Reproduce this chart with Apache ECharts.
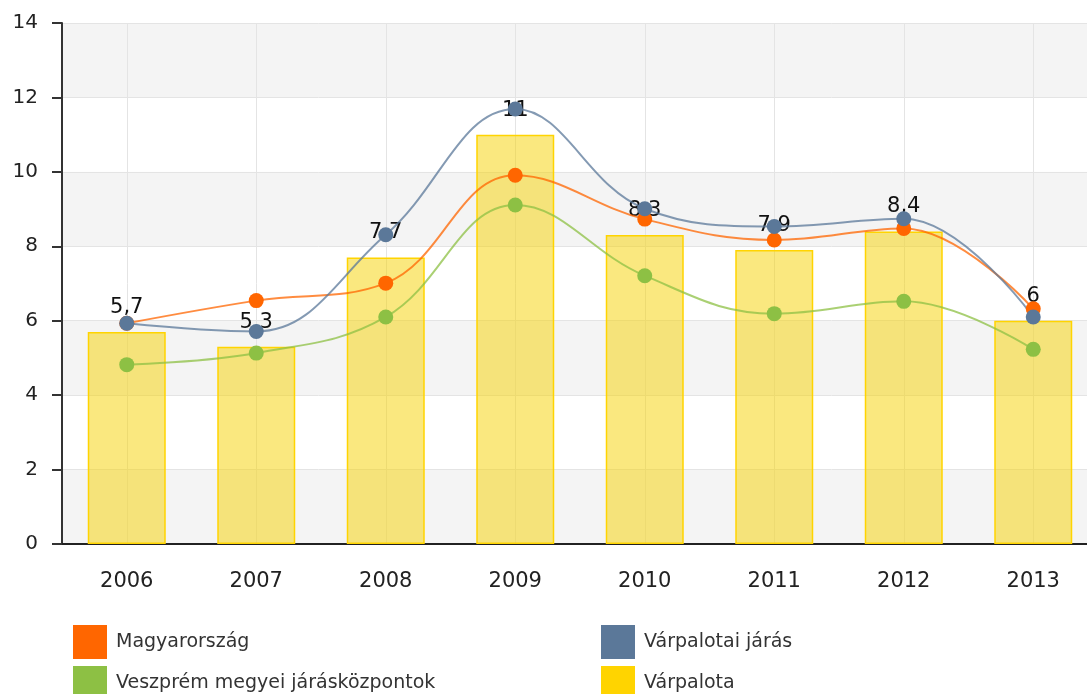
<!DOCTYPE html>
<html>
<head>
<meta charset="utf-8">
<script src="https://cdn.jsdelivr.net/npm/echarts@6/dist/echarts.min.js"></script>
<style>
  html, body { margin: 0; padding: 0; background: #fff; }
  #chart { width: 1087px; height: 694px; }
</style>
</head>
<body>
<div id="chart"></div>
<script>
(function(){
	'use strict';

	// categories (years)
	var years = ['2006', '2007', '2008', '2009', '2010', '2011', '2012', '2013'];

	// Várpalota (bars)
	var varpalota = [5.7, 5.3, 7.7, 11, 8.3, 7.9, 8.4, 6];
	// Magyarország
	var magyarorszag = [5.93, 6.54, 7.01, 9.91, 8.73, 8.17, 8.48, 6.32];
	// Várpalotai járás
	var varpalotaiJaras = [5.93, 5.71, 8.31, 11.69, 9.01, 8.53, 8.74, 6.1];
	// Veszprém megyei járásközpontok
	var veszprem = [4.82, 5.13, 6.10, 9.11, 7.21, 6.19, 6.52, 5.23];

	var yTicks = { min: 0, max: 14, interval: 2 };

	var FONT = '"DejaVu Sans", Verdana, sans-serif';

	var lineSeries = function(name, color, data){
		return {
			name: name,
			type: 'line',
			data: data,
			smooth: 0.4,
			symbol: 'circle',
			symbolSize: 15,
			itemStyle: { color: color },
			lineStyle: { color: color, width: 2, opacity: 0.75 }
		};
	};

	// one legend per entry, laid out in two columns
	var legendItem = function(name, color, left, top){
		return {
			left: left, top: top, padding: 0,
			itemWidth: 34, itemHeight: 34, icon: 'rect',
			textStyle: { fontSize: 19, color: '#333', fontFamily: FONT, padding: [0, 0, 0, 4] },
			data: [{ name: name, itemStyle: { color: color, borderWidth: 0 } }]
		};
	};

	var myChart = echarts.init(document.getElementById('chart'));

	var option = {
		animation: false,
		textStyle: { fontFamily: FONT },
		grid: { left: 62, right: -11, top: 23, bottom: 150, outerBoundsMode: 'none', containLabel: false },
		legend: [
			legendItem('Magyarország', '#FF6600', 73, 625),
			legendItem('Veszprém megyei járásközpontok', '#8DC044', 73, 666),
			legendItem('Várpalotai járás', '#5B7899', 601, 625),
			legendItem('Várpalota', '#FFD400', 601, 666)
		],
		xAxis: {
			type: 'category',
			data: years,
			boundaryGap: true,
			axisLine: { lineStyle: { color: '#222', width: 2 } },
			axisTick: { alignWithLabel: true, length: 11, lineStyle: { color: '#222', width: 2 } },
			axisLabel: { fontSize: 21, color: '#222', margin: 27, fontFamily: FONT },
			splitLine: { show: true, alignWithLabel: true, lineStyle: { color: '#e4e4e4', width: 1 } }
		},
		yAxis: {
			type: 'value',
			min: yTicks.min, max: yTicks.max, interval: yTicks.interval,
			axisLine: { show: true, lineStyle: { color: '#333', width: 2 } },
			axisTick: { show: true, length: 10, lineStyle: { color: '#333', width: 2 } },
			axisLabel: { fontSize: 20, color: '#222', margin: 24, fontFamily: FONT },
			splitLine: { show: true, lineStyle: { color: '#e4e4e4', width: 1 } },
			splitArea: { show: true, areaStyle: { color: ['#f4f4f4', '#ffffff'] } }
		},
		series: [
			{
				name: 'Várpalota',
				type: 'bar',
				data: varpalota,
				barWidth: 78,
				itemStyle: {
					color: 'rgba(245, 210, 0, 0.5)',
					borderColor: '#FFD400',
					borderWidth: 1.5
				},
				label: {
					show: true,
					position: 'top',
					distance: 14,
					fontSize: 21,
					color: '#111',
					fontFamily: FONT,
					formatter: function(p){ return String(p.value).replace('.', ','); }
				},
				z: 2
			},
			lineSeries('Veszprém megyei járásközpontok', '#8DC044', veszprem),
			lineSeries('Magyarország', '#FF6600', magyarorszag),
			lineSeries('Várpalotai járás', '#5B7899', varpalotaiJaras)
		]
	};

	myChart.setOption(option);
})();
</script>
</body>
</html>
